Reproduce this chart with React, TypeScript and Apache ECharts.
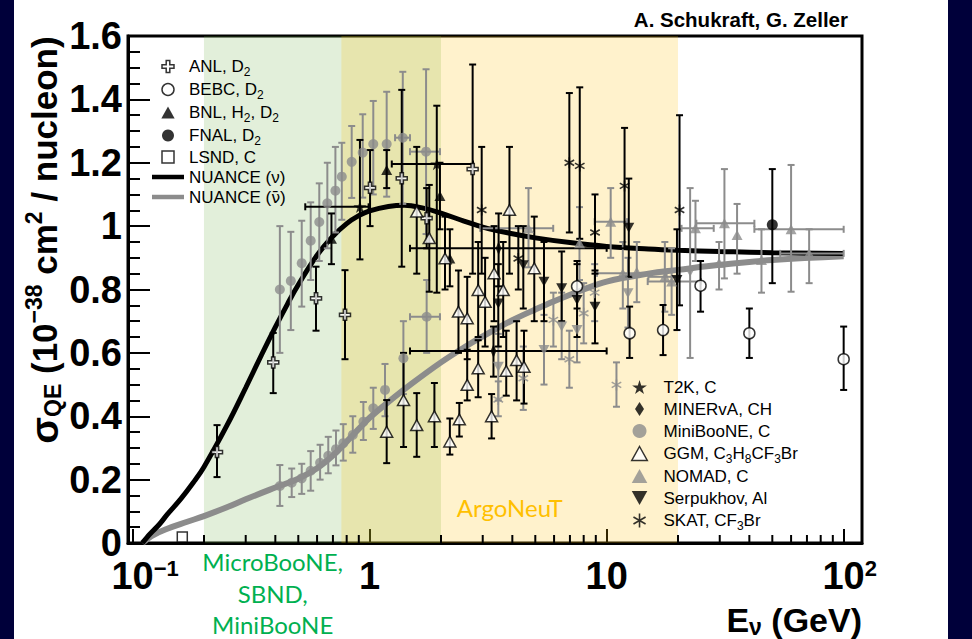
import React, { useEffect, useRef } from "react";
import * as echarts from "echarts";

const SANS = "Liberation Sans, Arial, sans-serif";

// ---------- axes ----------
const X_MIN = 0.0956;
const X_MAX = 119.5;
const xMajorValues = [0.1, 1, 10, 100];
const xTickLabels = ["{p1|\u00a0}{b|10}{s|\u22121}", "{b|1}", "{b|10}", "{p2|\u00a0}{b|10}{s|2}"];
const xMinorTicks = [0.2, 0.3, 0.4, 0.5, 0.6, 0.7, 0.8, 0.9, 2, 3, 4, 5, 6, 7, 8, 9, 20, 30, 40, 50, 60, 70, 80, 90];
const yTickLabels = ["0", "0.2", "0.4", "0.6", "0.8", "1", "1.2", "1.4", "1.6"];

// ---------- NUANCE curves ----------
const nuanceNuE = [0.11, 0.115, 0.12, 0.13, 0.14, 0.16, 0.18, 0.2, 0.25, 0.3, 0.35, 0.4, 0.45, 0.5, 0.6, 0.7, 0.8, 0.9, 1.0, 1.2, 1.4, 1.7, 2, 2.5, 3, 4, 5, 7, 10, 15, 20, 30, 50, 100];
const nuanceNuS = [0, 0.018, 0.033, 0.06, 0.09, 0.14, 0.19, 0.24, 0.371, 0.49, 0.594, 0.681, 0.754, 0.815, 0.908, 0.968, 1.008, 1.033, 1.048, 1.062, 1.066, 1.056, 1.041, 1.016, 0.997, 0.976, 0.963, 0.948, 0.936, 0.928, 0.924, 0.92, 0.916, 0.914];
const nuanceNubarE = [0.11, 0.12, 0.14, 0.17, 0.2, 0.25, 0.3, 0.4, 0.5, 0.6, 0.7, 0.8, 0.9, 1.0, 1.2, 1.5, 2, 2.5, 3, 4, 5, 6, 8, 10, 15, 20, 30, 50, 100];
const nuanceNubarS = [0, 0.022, 0.045, 0.067, 0.085, 0.113, 0.138, 0.175, 0.203, 0.236, 0.276, 0.32, 0.36, 0.395, 0.445, 0.502, 0.57, 0.617, 0.652, 0.703, 0.737, 0.763, 0.8, 0.825, 0.85, 0.862, 0.878, 0.893, 0.905];

// ---------- data: [E, sigma, sigmaLow, sigmaHigh, ELow, EHigh] ----------
const anl = [[0.227, 0.287, 0.208, 0.372], [0.392, 0.57, 0.473, 0.663], [0.594, 0.772, 0.67, 0.872], [0.787, 0.72, 0.58, 0.861], [1.004, 1.121, 1.0, 1.24], [1.366, 1.151, 0.872, 1.43], [1.74, 1.025, 0.93, 1.12], [2.72, 1.18, 0.85, 1.51]];
const bebc = [[7.5, 0.81, 0.74, 0.88], [12.5, 0.662, 0.584, 0.746], [17.3, 0.672, 0.593, 0.751], [24.9, 0.812, 0.73, 0.89], [40, 0.662, 0.584, 0.74], [100, 0.58, 0.483, 0.683]];
const bnl = [[0.69, 0.96, 0.88, 1.04], [1.18, 1.177, 1.12, 1.24], [1.98, 1.095, 0.99, 1.2], [2.18, 0.898, 0.81, 0.99]];
const fnal = [[50, 1.004, 0.82, 1.18]];
const lsnd = [[0.162, 0.019]];
const t2k = [[0.91, 1.061, 0.895, 1.272, 0.535, 0.99], [1.92, 1.196, 0.79, 1.38, 1.24, 2.73]];
const minerva = [[3.5, 0.93, 0.81, 1.04, 1.48, 10.0], [3.33, 0.606, 0.525, 0.683, 1.48, 10.0]];
const miniBooNENu = [[0.418, 0.8, 0.6, 1.0], [0.465, 0.827, 0.672, 0.982], [0.517, 0.883, 0.746, 1.017], [0.564, 0.954, 0.83, 1.075], [0.613, 1.013, 0.89, 1.135], [0.663, 1.072, 0.93, 1.2], [0.717, 1.112, 0.98, 1.25], [0.763, 1.156, 1.02, 1.263], [0.84, 1.203, 1.089, 1.316], [0.935, 1.232, 1.09, 1.353], [1.036, 1.259, 1.1, 1.395], [1.18, 1.259, 1.093, 1.424], [1.38, 1.279, 1.07, 1.487, 1.28, 1.48], [1.73, 1.235, 0.975, 1.495, 1.48, 1.98]];
const miniBooNENubar = [[0.418, 0.18, 0.117, 0.246], [0.469, 0.19, 0.145, 0.235], [0.517, 0.204, 0.155, 0.25], [0.564, 0.228, 0.165, 0.29], [0.618, 0.253, 0.2, 0.31], [0.669, 0.275, 0.22, 0.335], [0.721, 0.296, 0.245, 0.355], [0.774, 0.315, 0.26, 0.375], [0.849, 0.341, 0.285, 0.4], [0.941, 0.383, 0.325, 0.445], [1.036, 0.425, 0.36, 0.49], [1.161, 0.483, 0.4, 0.565], [1.388, 0.583, 0.47, 0.7], [1.74, 0.714, 0.6, 0.83, 1.48, 1.98]];
const ggm = [[1.18, 0.351, 0.252, 0.451], [1.39, 0.451, 0.303, 0.6], [1.58, 0.372, 0.272, 0.473], [1.58, 1.046, 0.85, 1.25], [1.785, 0.962, 0.793, 1.13], [1.876, 0.4, 0.303, 0.505], [2.08, 0.898, 0.8, 1.03], [2.18, 0.32, 0.279, 0.393], [2.37, 0.73, 0.6, 0.86], [2.39, 0.39, 0.336, 0.442], [2.58, 0.709, 0.58, 0.84], [2.58, 0.499, 0.45, 0.61], [2.87, 0.798, 0.65, 0.95], [2.87, 0.551, 0.46, 0.64], [3.07, 0.761, 0.62, 0.9], [3.27, 0.4, 0.33, 0.47], [3.35, 0.851, 0.7, 1.0], [3.66, 0.798, 0.65, 0.95], [3.77, 0.543, 0.465, 0.67], [3.89, 1.051, 0.85, 1.25], [4.17, 0.577, 0.45, 0.7], [4.48, 0.556, 0.44, 0.67], [4.95, 0.867, 0.7, 1.03]];
const nomad = [[4.68, 0.993, 0.87, 1.12, 2.93, 5.95], [7.68, 0.946, 0.83, 1.06], [10.4, 1.014, 0.9, 1.12, 8.9, 12.2], [11.7, 0.851, 0.74, 0.95, 9.1, 17.9], [13.4, 0.856, 0.76, 0.95], [17.6, 0.84, 0.73, 0.95, 15.0, 20.0], [18.8, 0.825, 0.72, 0.93, 14.9, 25], [23.7, 0.993, 0.89, 1.08, 20.7, 28.3], [29.8, 0.884, 0.8, 0.95], [31.4, 1.009, 0.835, 1.18, 23.9, 42], [35.5, 0.972, 0.85, 1.07], [45, 0.893, 0.79, 0.99], [60, 0.99, 0.793, 1.193, 42, 100], [71.5, 0.914, 0.82, 0.99, 54, 100]];
const serpukhovNu = [[3.49, 0.756, 0.62, 0.88], [4.45, 0.877, 0.74, 1.0], [5.44, 0.825, 0.7, 0.95], [6.46, 0.804, 0.7, 0.92], [7.5, 0.767, 0.65, 0.89], [8.93, 0.746, 0.63, 0.86], [12.4, 0.995, 0.84, 1.15], [19.8, 0.83, 0.672, 0.99]];
const serpukhovNubar = [[3.49, 0.556, 0.45, 0.66], [5.44, 0.609, 0.5, 0.72], [6.46, 0.683, 0.58, 0.79], [7.5, 0.672, 0.57, 0.78], [12.3, 0.788, 0.68, 0.9], [22.5, 0.856, 0.584, 1.12]];
const skatNu = [[2.97, 1.051, 0.85, 1.25], [4.24, 0.898, 0.8, 1.0], [6.96, 1.2, 0.98, 1.42], [7.7, 1.19, 0.96, 1.438], [8.93, 0.98, 0.85, 1.1], [11.9, 1.127, 0.93, 1.31], [20.3, 1.051, 0.75, 1.35]];
const skatNubar = [[3.49, 0.453, 0.4, 0.51], [4.45, 0.52, 0.42, 0.62], [5.96, 0.704, 0.62, 0.79], [6.96, 0.58, 0.49, 0.67], [8.0, 0.725, 0.63, 0.82], [8.9, 0.79, 0.7, 0.88], [11.0, 0.499, 0.43, 0.57]];

// ---------- legend labels ----------
const legendLabels: Record<string, string> = {
  ANL: "ANL, D{sub|2}",
  BEBC: "BEBC, D{sub|2}",
  BNL: "BNL, H{sub|2}, D{sub|2}",
  FNAL: "FNAL, D{sub|2}",
  LSND: "LSND, C",
  NUANCE_nu: "NUANCE (\u03bd)",
  NUANCE_nubar: "NUANCE ({nb|\u03bd\u0304})",
  T2K: "T2K, C",
  MINERvA: "MINERvA, CH",
  MiniBooNE: "MiniBooNE, C",
  GGM: "GGM, C{sub|3}H{sub|8}CF{sub|3}Br",
  NOMAD: "NOMAD, C",
  Serpukhov: "Serpukhov, Al",
  SKAT: "SKAT, CF{sub|3}Br",
};
const legendLeft = ["ANL", "BEBC", "BNL", "FNAL", "LSND", "NUANCE_nu", "NUANCE_nubar"];
const legendRight = ["T2K", "MINERvA", "MiniBooNE", "GGM", "NOMAD", "Serpukhov", "SKAT"];

const BLACK = "#000000";
const GRAY = "#8c8c8c";

const CROSS = "path://M3.5,0H6.5V3.5H10V6.5H6.5V10H3.5V6.5H0V3.5H3.5Z";
const STAR = "path://M50,0L61,35L98,35L68,57L79,91L50,70L21,91L32,57L2,35L39,35Z";
const DOWN = "path://M0,0L10,0L5,9Z";
const UP = "path://M5,0L10,9L0,9Z";
const SQUARE = "path://M0,0H10V10H0Z";
const DIAMOND = "path://M4.5,0L9,7L4.5,14L0,7Z";
const ASTER = "path://M5,0L5,10M0.67,2.5L9.33,7.5M0.67,7.5L9.33,2.5";
const LINE_ICON = "path://M0,0H32V4.5H0Z";

function errSeries(name: string, data: number[][], color: string) {
  return {
    type: "custom",
    name: name + "_err",
    z: 3,
    silent: true,
    clip: false,
    dimensions: ["x", "y", "lo", "hi", "xl", "xh"],
    encode: { x: "x", y: "y" },
    data: data.map((d) => [d[0], d[1], d[2] ?? d[1], d[3] ?? d[1], d[4] ?? 0, d[5] ?? 0]),
    renderItem: (_p: any, api: any) => {
      const x = api.value(0), y = api.value(1), lo = api.value(2), hi = api.value(3), xl = api.value(4), xh = api.value(5);
      const style = { stroke: color, lineWidth: 2 };
      const ch: any[] = [];
      const cap = 3.5;
      if (hi > lo) {
        const a = api.coord([x, lo]);
        const b = api.coord([x, hi]);
        ch.push({ type: "line", shape: { x1: a[0], y1: a[1], x2: b[0], y2: b[1] }, style });
        ch.push({ type: "line", shape: { x1: a[0] - cap, y1: a[1], x2: a[0] + cap, y2: a[1] }, style });
        ch.push({ type: "line", shape: { x1: b[0] - cap, y1: b[1], x2: b[0] + cap, y2: b[1] }, style });
      }
      if (xl > 0 && xh > 0) {
        const a = api.coord([xl, y]);
        const b = api.coord([xh, y]);
        ch.push({ type: "line", shape: { x1: a[0], y1: a[1], x2: b[0], y2: b[1] }, style });
        ch.push({ type: "line", shape: { x1: a[0], y1: a[1] - cap, x2: a[0], y2: a[1] + cap }, style });
        ch.push({ type: "line", shape: { x1: b[0], y1: b[1] - cap, x2: b[0], y2: b[1] + cap }, style });
      }
      return { type: "group", children: ch };
    },
  };
}

function markSeries(name: string, data: number[][], symbol: string, size: any, itemStyle: any) {
  return {
    type: "scatter",
    name,
    z: 4,
    symbol,
    symbolSize: size,
    symbolKeepAspect: true,
    itemStyle,
    data: data.map((d) => [d[0], d[1]]),
  };
}

function setSeries(name: string, data: number[][], color: string, symbol: string, size: any, itemStyle: any) {
  return [errSeries(name, data, color), markSeries(name, data, symbol, size, itemStyle)];
}

const filled = (c: string) => ({ color: c });
const open = (c: string) => ({ color: "#ffffff", borderColor: c, borderWidth: 1.5 });
const stroke = (c: string) => ({ color: "rgba(0,0,0,0)", borderColor: c, borderWidth: 1.6 });

const legendRich = (lh: number) => ({
  sub: { fontFamily: SANS, fontSize: 12, color: "#000", lineHeight: lh, padding: [11, 0, 0, 0] },
  nb: { fontFamily: "DejaVu Sans", fontSize: 16, color: "#000", lineHeight: lh },
});

const legendItem = (n: string) =>
  n === "NUANCE_nu"
    ? { name: n, icon: LINE_ICON, itemStyle: { color: BLACK } }
    : n === "NUANCE_nubar"
    ? { name: n, icon: LINE_ICON, itemStyle: { color: GRAY } }
    : { name: n };

function buildOption() {
  const series: any[] = [
    {
      type: "line",
      name: "NUANCE_nubar",
      z: 2,
      smooth: 0.4,
      symbol: "none",
      showSymbol: false,
      lineStyle: { color: GRAY, width: 6 },
      itemStyle: { color: GRAY },
      data: nuanceNubarE.map((e, i) => [e, nuanceNubarS[i]]),
    },
    {
      type: "line",
      name: "NUANCE_nu",
      z: 2,
      smooth: 0.4,
      symbol: "none",
      showSymbol: false,
      lineStyle: { color: BLACK, width: 5 },
      itemStyle: { color: BLACK },
      data: nuanceNuE.map((e, i) => [e, nuanceNuS[i]]),
    },
    ...setSeries("MiniBooNE", miniBooNENu, GRAY, "circle", 10, filled(GRAY)),
    ...setSeries("MiniBooNE_bar", miniBooNENubar, GRAY, "circle", 10, filled(GRAY)),
    ...setSeries("NOMAD", nomad, GRAY, UP, 11, filled(GRAY)),
    ...setSeries("Serpukhov_bar", serpukhovNubar, GRAY, DOWN, 11, filled(GRAY)),
    ...setSeries("SKAT_bar", skatNubar, GRAY, ASTER, 11, stroke(GRAY)),
    ...setSeries("ANL", anl, BLACK, CROSS, 11, open(BLACK)),
    ...setSeries("BEBC", bebc, BLACK, "circle", 11, open(BLACK)),
    ...setSeries("BNL", bnl, BLACK, UP, 11, filled(BLACK)),
    ...setSeries("FNAL", fnal, BLACK, "circle", 11, filled(BLACK)),
    ...setSeries("LSND", lsnd, BLACK, SQUARE, 10, open(BLACK)),
    ...setSeries("T2K", t2k, BLACK, STAR, 13, filled(BLACK)),
    ...setSeries("MINERvA", minerva, BLACK, DIAMOND, [9, 14], filled(BLACK)),
    ...setSeries("GGM", ggm, BLACK, UP, 12, open(BLACK)),
    ...setSeries("Serpukhov", serpukhovNu, BLACK, DOWN, 11, filled(BLACK)),
    ...setSeries("SKAT", skatNu, BLACK, ASTER, 11, stroke(BLACK)),
    {
      type: "custom",
      name: "minorTicks",
      z: 5,
      silent: true,
      clip: false,
      data: xMinorTicks.map((v) => [v, 0]),
      renderItem: (_p: any, api: any) => {
        const p = api.coord([api.value(0), 0]);
        return { type: "line", shape: { x1: p[0], y1: p[1], x2: p[0], y2: p[1] - 8 }, style: { stroke: "#000", lineWidth: 2 } };
      },
    },
    {
      type: "line",
      name: "bands",
      z: 20,
      silent: true,
      data: [],
      markArea: {
        silent: true,
        label: { show: false },
        data: [
          [{ coord: [0.2, 0], itemStyle: { color: "rgba(112,173,71,0.2)" } }, { coord: [2, 1.6] }],
          [
            {
              coord: [0.76, 0],
              name: "ArgoNeuT",
              itemStyle: { color: "rgba(255,192,0,0.2)" },
              label: { show: true, position: "insideBottom", distance: 24, color: "#FFC000", fontFamily: "Lato", fontSize: 24 },
            },
            { coord: [20, 1.6] },
          ],
          [
            {
              coord: [0.2, 0],
              name: "MicroBooNE,\nSBND,\nMiniBooNE",
              itemStyle: { color: "rgba(0,0,0,0)" },
              label: { show: true, position: "bottom", distance: 3, color: "#00B050", fontFamily: "Lato", fontSize: 24, lineHeight: 31.5, align: "center" },
            },
            { coord: [0.76, 1.6] },
          ],
        ],
      },
    },
  ];

  return {
    animation: false,
    backgroundColor: "transparent",
    grid: { left: 128, right: 110, top: 36, bottom: 96, show: true, borderColor: "#000", borderWidth: 3, backgroundColor: "transparent" },
    xAxis: {
      type: "log",
      logBase: 10,
      min: X_MIN,
      max: X_MAX,
      axisLine: { show: true, lineStyle: { color: "#000", width: 3 } },
      axisTick: { show: true, inside: true, length: 14, lineStyle: { color: "#000", width: 2 } },
      splitLine: { show: false },
      minorTick: { show: false },
      axisLabel: {
        margin: 18,
        formatter: (v: number) => {
          const k = xMajorValues.findIndex((m) => Math.abs(Math.log10(v) - Math.log10(m)) < 1e-6);
          return k >= 0 ? xTickLabels[k] : "";
        },
        rich: {
          b: { fontFamily: SANS, fontWeight: "bold", fontSize: 38, color: "#000", lineHeight: 30 },
          s: { fontFamily: SANS, fontWeight: "bold", fontSize: 22, color: "#000", lineHeight: 30, padding: [0, 0, 16, 0] },
          p1: { width: 25, fontSize: 22, lineHeight: 30 },
          p2: { width: 12, fontSize: 22, lineHeight: 30 },
        },
      },
    },
    yAxis: {
      type: "value",
      min: 0,
      max: 1.6,
      interval: 0.2,
      axisLine: { show: true, lineStyle: { color: "#000", width: 3 } },
      axisTick: { show: true, inside: true, length: 22, lineStyle: { color: "#000", width: 2 } },
      minorTick: { show: true, splitNumber: 4, length: 12, lineStyle: { color: "#000", width: 2 } },
      splitLine: { show: false },
      axisLabel: {
        margin: 6,
        fontFamily: SANS,
        fontWeight: "bold",
        fontSize: 38,
        lineHeight: 30,
        color: "#000",
        formatter: (v: number) => yTickLabels[Math.round(v / 0.2)] ?? "",
      },
    },
    legend: [
      {
        orient: "vertical",
        left: 152,
        top: 55,
        padding: 0,
        itemGap: 0,
        itemWidth: 32,
        itemHeight: 12,
        selectedMode: false,
        data: legendLeft.map(legendItem),
        formatter: (n: string) => legendLabels[n] ?? n,
        itemStyle: { borderWidth: "inherit" },
        textStyle: { fontFamily: SANS, fontSize: 17, color: "#000", lineHeight: 20, rich: legendRich(20) },
      },
      {
        orient: "vertical",
        left: 631,
        top: 376,
        padding: 0,
        itemGap: 0,
        itemWidth: 38,
        itemHeight: 14,
        selectedMode: false,
        data: legendRight.map(legendItem),
        formatter: (n: string) => legendLabels[n] ?? n,
        itemStyle: { borderWidth: "inherit" },
        textStyle: { fontFamily: SANS, fontSize: 17, color: "#000", lineHeight: 22, rich: legendRich(22) },
      },
    ],
    graphic: [
      {
        type: "text",
        x: 848,
        y: 19,
        z: 100,
        style: { text: "A. Schukraft, G. Zeller", fontFamily: SANS, fontWeight: "bold", fontSize: 20.5, fill: "#000", align: "right", verticalAlign: "middle", textAlign: "right", textVerticalAlign: "middle" },
      },
      {
        type: "text",
        x: 44,
        y: 240,
        rotation: Math.PI / 2,
        z: 100,
        style: {
          text: "{s|\u03c3}{sub|QE}{m| (10}{sup|\u221238}{m| cm}{sup|2}{m| / nucleon)}",
          align: "center",
          verticalAlign: "middle",
          textAlign: "center",
          textVerticalAlign: "middle",
          fill: "#000",
          fontFamily: SANS,
          fontWeight: "bold",
          fontSize: 35,
          rich: {
            s: { fontFamily: SANS, fontWeight: "bold", fontSize: 39, fill: "#000" },
            m: { fontFamily: SANS, fontWeight: "bold", fontSize: 35, fill: "#000" },
            sub: { fontFamily: SANS, fontWeight: "bold", fontSize: 23, fill: "#000", padding: [18, 0, 0, 0] },
            sup: { fontFamily: SANS, fontWeight: "bold", fontSize: 23, fill: "#000", padding: [0, 0, 20, 0] },
          },
        },
      },
      {
        type: "text",
        x: 862,
        y: 620,
        z: 100,
        style: {
          text: "{e|E}{sub|\u03bd}{e| (GeV)}",
          align: "right",
          verticalAlign: "middle",
          textAlign: "right",
          textVerticalAlign: "middle",
          fill: "#000",
          fontFamily: SANS,
          fontWeight: "bold",
          fontSize: 34,
          rich: {
            e: { fontFamily: SANS, fontWeight: "bold", fontSize: 34, fill: "#000" },
            sub: { fontFamily: SANS, fontWeight: "bold", fontSize: 23, fill: "#000", padding: [14, 0, 0, 0] },
          },
        },
      },
    ],
    series,
  };
}

export default function App() {
  const ref = useRef<HTMLDivElement>(null);
  useEffect(() => {
    if (!ref.current) return;
    const chart = echarts.init(ref.current, null, { renderer: "svg" });
    chart.setOption(buildOption() as any);
    return () => chart.dispose();
  }, []);
  return (
    <div style={{ position: "absolute", left: 0, top: 0, width: 972, height: 639, background: "#00003a", overflow: "hidden" }}>
      <div style={{ position: "absolute", left: 14, top: 0, width: 934, height: 639, background: "#ffffff" }} />
      <div ref={ref} style={{ position: "absolute", left: 0, top: 0, width: 972, height: 639 }} />
    </div>
  );
}
